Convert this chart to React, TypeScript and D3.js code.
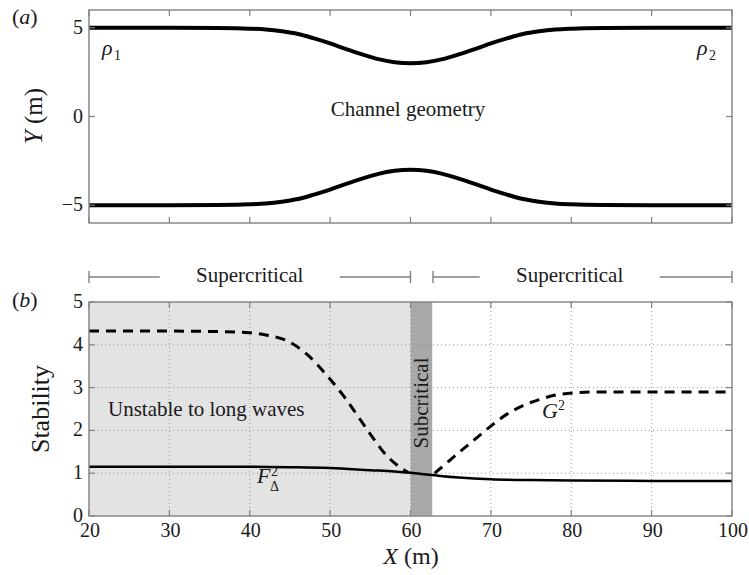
import * as d3 from "d3";

// channel walls (top panel)
const wallX = [20, 30, 36, 40, 42, 44, 46, 48, 50, 52, 54, 56, 58, 60, 62, 64, 66, 68, 70, 72, 74, 76, 78, 80, 84, 90, 100];
const upperWall = [5, 5, 4.99, 4.95, 4.9, 4.8, 4.65, 4.4, 4.12, 3.8, 3.5, 3.23, 3.06, 3.0, 3.06, 3.23, 3.5, 3.8, 4.12, 4.4, 4.65, 4.8, 4.9, 4.95, 4.99, 5, 5];
const lowerWall = [-5, -5, -4.99, -4.95, -4.9, -4.8, -4.65, -4.4, -4.12, -3.8, -3.5, -3.23, -3.06, -3.0, -3.06, -3.23, -3.5, -3.8, -4.12, -4.4, -4.65, -4.8, -4.9, -4.95, -4.99, -5, -5];

// G^2 (dashed), two branches either side of the subcritical band
const gLeftX = [20, 30, 36, 40, 42, 44.8, 47.1, 49.8, 51.7, 53.5, 55.2, 56.8, 58.6, 59.7];
const gLeftY = [4.32, 4.32, 4.31, 4.28, 4.23, 4.08, 3.78, 3.24, 2.8, 2.32, 1.86, 1.46, 1.15, 1.02];
const gRightX = [63, 63.7, 65.7, 67.8, 70.0, 72, 74.0, 76, 78.2, 80.5, 84, 90, 100];
const gRightY = [1.0, 1.11, 1.43, 1.76, 2.1, 2.38, 2.58, 2.72, 2.83, 2.88, 2.9, 2.9, 2.9];

// F_Delta^2 (solid)
const fX = [20, 30, 40, 45, 50, 55, 58, 60, 62, 64, 66, 70, 75, 80, 90, 100];
const fY = [1.15, 1.15, 1.15, 1.14, 1.12, 1.07, 1.04, 1.01, 0.97, 0.93, 0.9, 0.86, 0.84, 0.83, 0.82, 0.82];

const unstableRange = [20, 60];
const subcriticalRange = [60, 62.7];
const superRanges = [[20, 60], [62.8, 100]];
const superLabelX = [40, 79.8];

const xTicks = [20, 30, 40, 50, 60, 70, 80, 90, 100];
const yTopTicks = [-5, 0, 5];
const yBotTicks = [0, 1, 2, 3, 4, 5];
const gridX = [30, 40, 50, 60, 70, 80, 90];
const gridY = [1, 2, 3, 4];

const W = 749;
const H = 575;
const FONT = "'Liberation Serif', 'Times New Roman', serif";
const FRAME = "#808080";
const INK = "#1a1a1a";

const x = d3.scaleLinear().domain([20, 100]).range([89, 732]);
const yTop = d3.scaleLinear().domain([-6, 6]).range([223, 10]);
const yBot = d3.scaleLinear().domain([0, 5]).range([516, 302]);

const toPts = (xs: number[], ys: number[]) => xs.map((v, i) => [v, ys[i]] as [number, number]);

function Frame({ y, yTicks, top, bottom, labels }: any) {
  const tl = 6;
  return (
    <g>
      <rect x={x(20)} y={top} width={x(100) - x(20)} height={bottom - top} fill="none" stroke={FRAME} strokeWidth={1.4} />
      {xTicks.map((t) => (
        <g key={"xt" + t} stroke={FRAME} strokeWidth={1.2}>
          <line x1={x(t)} x2={x(t)} y1={bottom} y2={bottom - tl} />
          <line x1={x(t)} x2={x(t)} y1={top} y2={top + tl} />
        </g>
      ))}
      {yTicks.map((t: number) => (
        <g key={"yt" + t}>
          <line x1={x(20)} x2={x(20) + tl} y1={y(t)} y2={y(t)} stroke={FRAME} strokeWidth={1.2} />
          <line x1={x(100)} x2={x(100) - tl} y1={y(t)} y2={y(t)} stroke={FRAME} strokeWidth={1.2} />
          <text x={83} y={y(t) + 6} textAnchor="end" fontSize={20} fill={INK} style={{ fontFamily: FONT }}>
            {t < 0 ? "\u2212" + Math.abs(t) : t}
          </text>
        </g>
      ))}
      {labels &&
        xTicks.map((t) => (
          <text key={"xl" + t} x={x(t) + 1} y={537} textAnchor="middle" fontSize={20} fill={INK} style={{ fontFamily: FONT }}>
            {t}
          </text>
        ))}
    </g>
  );
}

export default function App() {
  const lineTop = d3
    .line<[number, number]>()
    .curve(d3.curveMonotoneX)
    .x((d) => x(d[0]))
    .y((d) => yTop(d[1]));
  const upperPath = lineTop(toPts(wallX, upperWall)) as string;
  const lowerPath = lineTop(toPts(wallX, lowerWall)) as string;
  const lineBot = d3
    .line<[number, number]>()
    .curve(d3.curveMonotoneX)
    .x((d) => x(d[0]))
    .y((d) => yBot(d[1]));
  const gL = lineBot(toPts(gLeftX, gLeftY)) as string;
  const gR = lineBot(toPts(gRightX, gRightY)) as string;
  const fP = lineBot(toPts(fX, fY)) as string;

  const bracketY = 277;
  const halfText = 53;
  const gap = 37;
  const f = { fontFamily: FONT };

  return (
    <svg width={W} height={H} style={{ position: "absolute", left: 0, top: 0, background: "#fff", fontFamily: FONT }}>
      {/* panel (a) */}
      <path d={upperPath} fill="none" stroke="#000" strokeWidth={4} />
      <path d={lowerPath} fill="none" stroke="#000" strokeWidth={4} />
      <Frame y={yTop} yTicks={yTopTicks} top={10} bottom={223} labels={false} />
      <text x={12} y={24} fontSize={22} fill={INK} style={f}>
        (<tspan fontStyle="italic">a</tspan>)
      </text>
      <text transform="translate(42,116) rotate(-90)" textAnchor="middle" fontSize={25} fill={INK} style={f}>
        <tspan fontStyle="italic">Y</tspan> (m)
      </text>
      <text x={408} y={116} textAnchor="middle" fontSize={21} fill={INK} style={f}>Channel geometry</text>
      <text x={102} y={55} fontSize={22} fontStyle="italic" fill={INK} style={f}>ρ</text>
      <text x={114} y={60} fontSize={14} fill={INK} style={f}>1</text>
      <text x={697} y={55} fontSize={22} fontStyle="italic" fill={INK} style={f}>ρ</text>
      <text x={709} y={60} fontSize={14} fill={INK} style={f}>2</text>

      {/* brackets */}
      {superRanges.map((r, i) => {
        const cx = x(superLabelX[i]);
        return (
          <g key={"br" + i} stroke={FRAME} strokeWidth={1.4}>
            <line x1={x(r[0])} x2={x(r[0])} y1={bracketY - 6} y2={bracketY + 6} />
            <line x1={x(r[0])} x2={cx - halfText - gap} y1={bracketY} y2={bracketY} />
            <line x1={cx + halfText + gap} x2={x(r[1])} y1={bracketY} y2={bracketY} />
            <line x1={x(r[1])} x2={x(r[1])} y1={bracketY - 6} y2={bracketY + 6} />
            <text x={cx} y={282} textAnchor="middle" fontSize={21} fill={INK} stroke="none" style={f}>
              Supercritical
            </text>
          </g>
        );
      })}

      {/* panel (b) */}
      <rect x={x(unstableRange[0])} y={yBot(5)} width={x(unstableRange[1]) - x(unstableRange[0])} height={yBot(0) - yBot(5)} fill="#e3e3e3" />
      <rect x={x(subcriticalRange[0])} y={yBot(5)} width={x(subcriticalRange[1]) - x(subcriticalRange[0])} height={yBot(0) - yBot(5)} fill="#a8a8a8" />
      {gridX.map((t) => (
        <line key={"gx" + t} x1={x(t)} x2={x(t)} y1={yBot(0)} y2={yBot(5)} stroke="#999" strokeWidth={1} strokeDasharray="1,3" />
      ))}
      {gridY.map((t) => (
        <line key={"gy" + t} x1={x(20)} x2={x(100)} y1={yBot(t)} y2={yBot(t)} stroke="#999" strokeWidth={1} strokeDasharray="1,3" />
      ))}
      <text transform="translate(428,403) rotate(-90)" textAnchor="middle" fontSize={21} fill={INK} style={f}>Subcritical</text>
      <path d={fP} fill="none" stroke="#000" strokeWidth={2.5} />
      <path d={gL} fill="none" stroke="#000" strokeWidth={3} strokeDasharray="10,7" />
      <path d={gR} fill="none" stroke="#000" strokeWidth={3} strokeDasharray="10,7" />
      <Frame y={yBot} yTicks={yBotTicks} top={302} bottom={516} labels={true} />
      <text x={12} y={307} fontSize={22} fill={INK} style={f}>
        (<tspan fontStyle="italic">b</tspan>)
      </text>
      <text transform="translate(49,409) rotate(-90)" textAnchor="middle" fontSize={26} fill={INK} style={f}>Stability</text>
      <text x={411} y={564} textAnchor="middle" fontSize={24} fill={INK} style={f}>
        <tspan fontStyle="italic">X</tspan> (m)
      </text>
      <text x={108} y={416} fontSize={21} fill={INK} style={f}>Unstable to long waves</text>
      <text x={257} y={483} fontSize={22} fontStyle="italic" fill={INK} style={f}>F</text>
      <text x={271} y={476} fontSize={14} fill={INK} style={f}>2</text>
      <text x={270} y={491} fontSize={14} fill={INK} style={f}>Δ</text>
      <text x={542} y={418} fontSize={22} fontStyle="italic" fill={INK} style={f}>G</text>
      <text x={558} y={410} fontSize={14} fill={INK} style={f}>2</text>
    </svg>
  );
}
